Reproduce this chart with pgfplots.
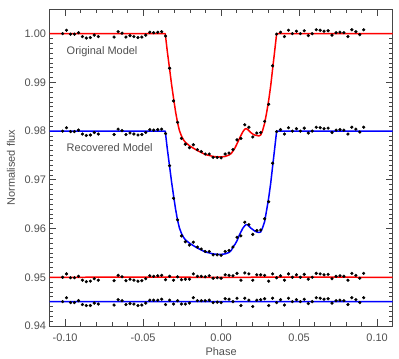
\documentclass[border=0pt]{standalone}
\usepackage{pgfplots}
\pgfplotsset{compat=1.18}
\usepackage{pgfplotstable}
\usepackage{fontspec}
\setmainfont{Liberation Sans}
\usetikzlibrary{calc}
\definecolor{txtgray}{RGB}{80,80,80}
\definecolor{axgray}{RGB}{70,70,70}
\definecolor{mred}{RGB}{255,0,0}
\definecolor{mblue}{RGB}{0,0,255}

\pgfplotstableread{
x f g r1 r2
-0.1016 1.0000 0.9800 0.9500 0.9450
-0.0991 1.0007 0.9807 0.9507 0.9458
-0.0965 0.9999 0.9799 0.9499 0.9448
-0.0940 0.9999 0.9799 0.9499 0.9448
-0.0914 1.0002 0.9802 0.9502 0.9452
-0.0889 0.9994 0.9794 0.9494 0.9444
-0.0864 0.9991 0.9791 0.9491 0.9442
-0.0838 0.9992 0.9792 0.9492 0.9442
-0.0813 0.9997 0.9797 0.9497 0.9447
-0.0787 0.9994 0.9794 0.9494 0.9445
-0.0686 0.9993 0.9793 0.9493 0.9443
-0.0660 1.0004 0.9804 0.9504 0.9454
-0.0635 1.0001 0.9801 0.9501 0.9452
-0.0610 0.9993 0.9793 0.9493 0.9444
-0.0584 0.9996 0.9796 0.9496 0.9446
-0.0559 0.9994 0.9794 0.9494 0.9445
-0.0533 0.9992 0.9792 0.9492 0.9442
-0.0508 0.9993 0.9793 0.9493 0.9443
-0.0483 0.9997 0.9797 0.9497 0.9447
-0.0457 1.0003 0.9803 0.9503 0.9453
-0.0432 1.0002 0.9802 0.9502 0.9453
-0.0406 1.0003 0.9803 0.9503 0.9453
-0.0381 1.0004 0.9804 0.9504 0.9455
-0.0356 0.9995 0.9795 0.9495 0.9444
-0.0330 0.9929 0.9729 0.9502 0.9453
-0.0305 0.9862 0.9662 0.9494 0.9445
-0.0279 0.9818 0.9618 0.9501 0.9452
-0.0254 0.9785 0.9585 0.9495 0.9445
-0.0229 0.9773 0.9573 0.9496 0.9445
-0.0203 0.9766 0.9566 0.9496 0.9447
-0.0178 0.9772 0.9572 0.9507 0.9458
-0.0152 0.9762 0.9562 0.9502 0.9452
-0.0127 0.9758 0.9558 0.9502 0.9452
-0.0102 0.9753 0.9553 0.9501 0.9452
-0.0076 0.9753 0.9553 0.9503 0.9453
-0.0051 0.9746 0.9546 0.9498 0.9448
-0.0025 0.9746 0.9546 0.9499 0.9449
0.0000 0.9745 0.9545 0.9498 0.9448
0.0026 0.9753 0.9553 0.9505 0.9456
0.0051 0.9755 0.9555 0.9504 0.9455
0.0076 0.9762 0.9562 0.9503 0.9450
0.0102 0.9782 0.9582 0.9508 0.9457
0.0127 0.9785 0.9585 0.9494 0.9442
0.0152 0.9813 0.9613 0.9509 0.9457
0.0178 0.9808 0.9608 0.9507 0.9453
0.0203 0.9788 0.9588 0.9494 0.9440
0.0229 0.9796 0.9596 0.9505 0.9453
0.0254 0.9797 0.9597 0.9505 0.9454
0.0279 0.9820 0.9620 0.9504 0.9456
0.0305 0.9855 0.9655 0.9492 0.9442
0.0330 0.9934 0.9734 0.9507 0.9457
0.0356 0.9999 0.9799 0.9499 0.9448
0.0381 1.0003 0.9803 0.9503 0.9454
0.0406 0.9994 0.9794 0.9494 0.9443
0.0432 1.0007 0.9807 0.9507 0.9457
0.0457 1.0000 0.9800 0.9500 0.9450
0.0483 1.0005 0.9805 0.9505 0.9454
0.0508 1.0000 0.9800 0.9500 0.9450
0.0533 1.0006 0.9806 0.9506 0.9455
0.0559 0.9996 0.9796 0.9496 0.9446
0.0584 1.0000 0.9800 0.9500 0.9450
0.0610 1.0008 0.9808 0.9508 0.9458
0.0635 1.0007 0.9807 0.9507 0.9457
0.0660 1.0005 0.9805 0.9505 0.9455
0.0686 1.0006 0.9806 0.9506 0.9456
0.0711 0.9997 0.9797 0.9497 0.9447
0.0737 1.0002 0.9802 0.9502 0.9452
0.0762 1.0003 0.9803 0.9503 0.9453
0.0787 1.0002 0.9802 0.9502 0.9452
0.0813 0.9994 0.9794 0.9494 0.9444
0.0838 1.0008 0.9808 0.9508 0.9458
0.0864 1.0004 0.9804 0.9504 0.9454
0.0889 0.9998 0.9798 0.9498 0.9448
0.0914 1.0008 0.9808 0.9508 0.9458
}\datatab

\pgfplotstableread{
x y
-0.11 1.0
-0.0358 1.0
-0.0345 0.9964
-0.0330 0.9927
-0.0318 0.9897
-0.0305 0.9868
-0.0292 0.9840
-0.0279 0.9817
-0.0267 0.9801
-0.0254 0.9790
-0.0241 0.9782
-0.0229 0.9777
-0.0203 0.9770
-0.0178 0.9765
-0.0152 0.9760
-0.0127 0.9756
-0.0102 0.9752
-0.0076 0.9750
-0.0051 0.9748
-0.0025 0.9747
0.0000 0.9747
0.0026 0.9748
0.0051 0.9751
0.0065 0.9754
0.0076 0.9759
0.0090 0.9766
0.0102 0.9774
0.0115 0.9783
0.0127 0.9791
0.0140 0.9799
0.0152 0.9804
0.0160 0.9805
0.0168 0.9804
0.0178 0.9801
0.0190 0.9797
0.0203 0.9794
0.0215 0.9792
0.0229 0.9791
0.0242 0.9790
0.0254 0.9792
0.0265 0.9800
0.0279 0.9816
0.0292 0.9838
0.0305 0.9863
0.0318 0.9893
0.0330 0.9927
0.0343 0.9963
0.0356 1.0
0.11 1.0
nan nan
-0.11 0.95
-0.05 0.95001
0.00 0.95
0.05 0.95001
0.11 0.95
}\redmodel

\pgfplotstableread{
x y
-0.11 0.98
-0.0358 0.98
-0.0345 0.9764
-0.0330 0.9727
-0.0318 0.9697
-0.0305 0.9668
-0.0292 0.9640
-0.0279 0.9617
-0.0267 0.9601
-0.0254 0.9590
-0.0241 0.9582
-0.0229 0.9577
-0.0203 0.9570
-0.0178 0.9565
-0.0152 0.9560
-0.0127 0.9556
-0.0102 0.9552
-0.0076 0.9550
-0.0051 0.9548
-0.0025 0.9547
0.0000 0.9547
0.0026 0.9548
0.0051 0.9551
0.0065 0.9555
0.0076 0.9562
0.0090 0.9568
0.0102 0.9575
0.0115 0.9585
0.0127 0.9593
0.0140 0.9601
0.0152 0.9606
0.0160 0.9608
0.0168 0.9608
0.0178 0.9605
0.0190 0.9601
0.0203 0.9598
0.0215 0.9595
0.0229 0.9593
0.0242 0.9592
0.0254 0.9593
0.0265 0.9601
0.0279 0.9614
0.0292 0.9638
0.0305 0.9663
0.0318 0.9693
0.0330 0.9727
0.0343 0.9763
0.0356 0.98
0.11 0.98
nan nan
-0.11 0.945
-0.05 0.94501
0.00 0.945
0.05 0.94501
0.11 0.945
}\bluemodel

\begin{document}
\begin{tikzpicture}
\begin{axis}[
  scale only axis,
  width=343.2bp, height=316.7bp,
  xmin=-0.11, xmax=0.11,
  ymin=0.94, ymax=1.005,
  xtick={-0.10,-0.05,0,0.05,0.10},
  ytick={0.94,0.95,0.96,0.97,0.98,0.99,1.00},
  minor x tick num=4,
  minor y tick num=9,
  tick align=inside,
  tick pos=both,
  major tick length=6.5bp,
  minor tick length=3.5bp,
  axis line style={axgray, line width=0.8bp},
  every tick/.style={axgray, line width=0.7bp},
  /pgf/number format/assume math mode=true,
  xticklabel style={/pgf/number format/.cd, fixed, fixed zerofill, precision=2, /tikz/.cd, font=\fontsize{11}{13}\selectfont, text=txtgray, yshift=-4bp},
  yticklabel style={/pgf/number format/.cd, fixed, fixed zerofill, precision=2, /tikz/.cd, font=\fontsize{11}{13}\selectfont, text=txtgray},
  scaled ticks=false,
  xlabel={Phase},
  ylabel={Normalised flux},
  xlabel style={font=\fontsize{11}{13}\selectfont, text=txtgray, at={(axis description cs:0.5,-0.081)}, anchor=center},
  ylabel style={font=\fontsize{11}{13}\selectfont, text=txtgray, at={(axis description cs:-0.112,0.5)}, anchor=center},
  unbounded coords=jump,
  clip=true,
]
\addplot[draw=mred, line width=1.5bp, line join=round, mark=none] table[x=x,y=y] {\redmodel};
\addplot[draw=mblue, line width=1.5bp, line join=round, mark=none] table[x=x,y=y] {\bluemodel};
\addplot[only marks, mark=*, mark size=1.4bp, black] table[x=x,y=f] {\datatab};
\addplot[only marks, mark=*, mark size=1.4bp, black] table[x=x,y=g] {\datatab};
\addplot[only marks, mark=*, mark size=1.4bp, black] table[x=x,y=r1] {\datatab};
\addplot[only marks, mark=*, mark size=1.4bp, black] table[x=x,y=r2] {\datatab};
\node[anchor=west, font=\fontsize{11}{13}\selectfont, text=txtgray] at (axis cs:-0.1012,0.9963) {Original Model};
\node[anchor=west, font=\fontsize{11}{13}\selectfont, text=txtgray] at (axis cs:-0.1012,0.9766) {Recovered Model};
\end{axis}
\useasboundingbox ($(current axis.south west)+(-49.5bp,-33bp)$) rectangle ($(current axis.north east)+(6.3bp,9.3bp)$);
\end{tikzpicture}
\end{document}
